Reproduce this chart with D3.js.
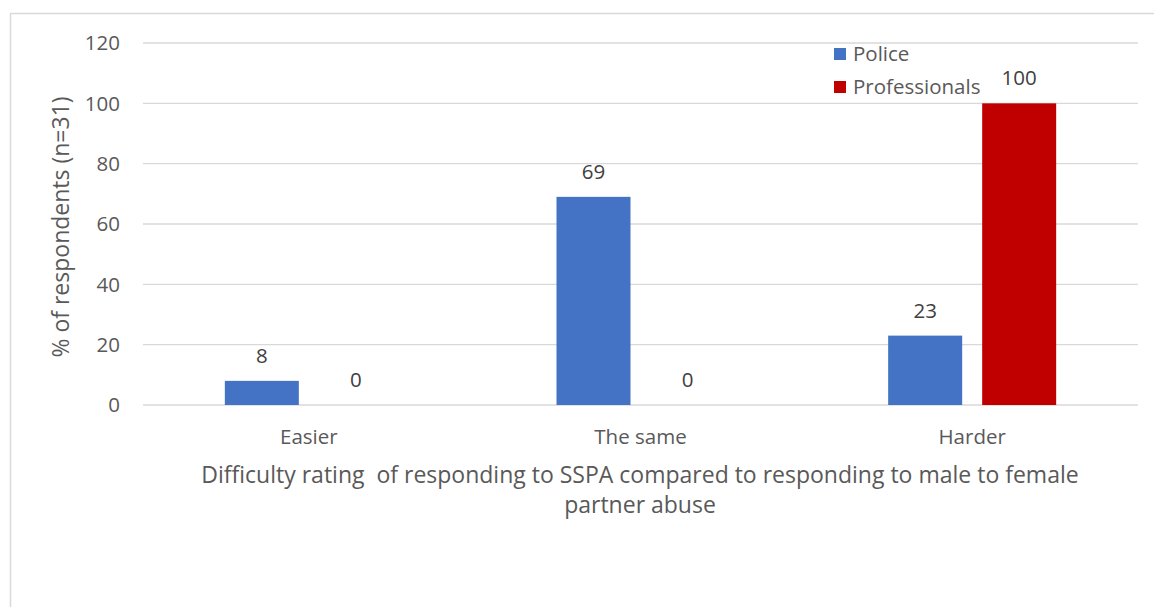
<!DOCTYPE html>
<html><head><meta charset="utf-8">
<script src="https://cdn.jsdelivr.net/npm/d3@7"></script>
<style>body{margin:0;background:#fff;} text{font-family:"Open Sans", sans-serif; white-space:pre;}</style>
</head><body>
<svg id="c" width="1154" height="607"></svg>
<script>
const categories = ["Easier", "The same", "Harder"];
const seriesNames = ["Police", "Professionals"];
const police = [8, 69, 23];
const professionals = [0, 0, 100];
const yTicks = [0, 20, 40, 60, 80, 100, 120];
const colors = ["#4472C4", "#C00000"];
const yTitle = "% of respondents (n=31)";
const xTitle = ["Difficulty rating  of responding to SSPA compared to responding to male to female", "partner abuse"];

(function(){
const svg = d3.select("#c");
svg.append("rect").attr("x",10.5).attr("y",13.5).attr("width",1160).attr("height",620)
  .attr("fill","#fff").attr("stroke","#d9d9d9").attr("stroke-width",1.5);

const pl = 143, pr = 1138, pt = 43, pb = 405;
const x0 = d3.scaleBand().domain(categories).range([pl, pr]);
const x1 = d3.scaleBand().domain(seriesNames).range([0, 168]).paddingInner(20/94);
const y = d3.scaleLinear().domain([0, 120]).range([pb, pt]);
const fs = 20.5, ft = 23;

const g = svg.append("g");
g.selectAll("line.grid").data(yTicks).join("line")
  .attr("x1", pl).attr("x2", pr).attr("y1", d=>y(d)).attr("y2", d=>y(d))
  .attr("stroke", "#d9d9d9").attr("stroke-width", 1.3);
g.selectAll("text.yt").data(yTicks).join("text")
  .attr("x", 120).attr("y", d=>y(d)).attr("dy","0.35em").attr("text-anchor","end")
  .attr("font-size", fs).attr("fill", "#595959").text(d=>d);

const data = [police, professionals];
categories.forEach((c, i) => {
  const off = x0(c) + x0.bandwidth()/2 - 84;
  seriesNames.forEach((s, j) => {
    const v = data[j][i];
    const bx = off + x1(s);
    g.append("rect").attr("x", bx).attr("y", y(v)).attr("width", x1.bandwidth())
      .attr("height", pb - y(v)).attr("fill", colors[j]);
    g.append("text").attr("x", bx + x1.bandwidth()/2).attr("y", y(v) - 18)
      .attr("text-anchor","middle").attr("font-size", fs).attr("fill","#404040").text(v);
  });
  g.append("text").attr("x", x0(c) + x0.bandwidth()/2).attr("y", 437).attr("dy","0.35em")
    .attr("text-anchor","middle").attr("font-size", fs).attr("fill","#595959").text(c);
});

xTitle.forEach((t, i) => {
  g.append("text").attr("x", 640).attr("y", 475 + i*30).attr("dy","0.35em")
    .attr("text-anchor","middle").attr("font-size", ft).attr("fill","#595959").text(t);
});
g.append("text").attr("transform","translate(61,227) rotate(-90)").attr("dy","0.35em")
  .attr("text-anchor","middle").attr("font-size", ft).attr("fill","#595959").text(yTitle);

seriesNames.forEach((s, j) => {
  const ly = 54 + j*33;
  g.append("rect").attr("x", 834).attr("y", ly-6).attr("width", 12).attr("height", 12).attr("fill", colors[j]);
  g.append("text").attr("x", 853).attr("y", ly).attr("dy","0.35em").attr("font-size", fs)
    .attr("fill","#595959").text(s);
});
})();
</script>
</body></html>
